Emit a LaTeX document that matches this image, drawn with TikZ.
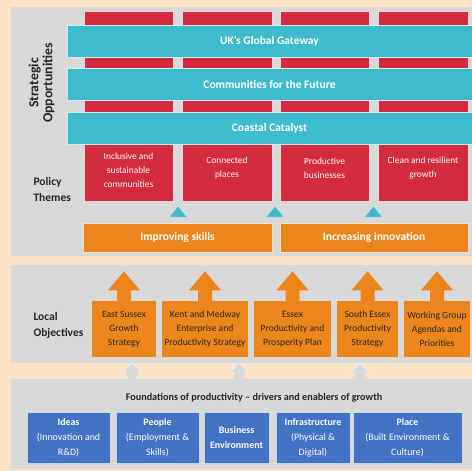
\documentclass[tikz,border=0pt]{standalone}
\usepackage{fontspec}
\setmainfont{Carlito}
\definecolor{peach}{RGB}{252,227,198}
\definecolor{panelgray}{RGB}{217,217,217}
\definecolor{cred}{RGB}{213,43,63}
\definecolor{cteal}{RGB}{62,187,204}
\definecolor{corange}{RGB}{236,133,27}
\definecolor{cblue}{RGB}{68,114,196}
\definecolor{darktext}{RGB}{45,40,35}
\tikzset{
  panel/.style={fill=panelgray, draw=none, inner sep=0pt, rectangle},
  redcol/.style={fill=cred, draw=white!80!cred, line width=0.6pt, inner sep=0pt, minimum height=190, minimum width=89},
  redtext/.style={text=white, align=center, font={\fontsize{9.4}{14}\selectfont}},
  tealbar/.style={fill=cteal, draw=white!75!cteal, line width=0.6pt, inner sep=0pt, minimum width=405, minimum height=32, text=white, font={\fontsize{11.5}{14}\selectfont\bfseries}},
  orbar/.style={fill=corange, draw=white!75!corange, line width=0.6pt, inner sep=0pt, minimum height=29, text=white, font={\fontsize{11.5}{14}\selectfont\bfseries}},
  locbox/.style={fill=corange, draw=none, inner sep=0pt, minimum height=56, text=darktext, align=center, font={\fontsize{9.6}{14}\selectfont}},
  bluebox/.style={fill=cblue, draw=white!70!cblue, line width=0.6pt, inner sep=0pt, minimum height=51, text=white, align=center, font={\fontsize{9.9}{15}\selectfont}},
  sidelabel/.style={text=black!85, align=left, font={\fontsize{11.5}{16}\selectfont\bfseries}},
  tri/.style={fill=cteal, draw=white!70!cteal, line width=0.5pt},
  orarrow/.style={fill=corange, draw=none},
  grayarrow/.style={fill=panelgray, draw=white!60!panelgray, line width=0.4pt},
}
\begin{document}
\begin{tikzpicture}[x=1pt,y=-1pt]
\useasboundingbox (0,0) rectangle (472,471);
\fill[peach] (0,0) rectangle (472,471);

% panels
\node[panel, minimum width=461, minimum height=249] (p1) at (241.5,131.5) {};
\node[panel, minimum width=461, minimum height=98] (p2) at (241.5,314) {};
\node[panel, minimum width=461, minimum height=90] (p3) at (241.5,424) {};

% red policy columns
\node[redcol] (c1) at (128.5,106) {};
\node[redcol, minimum width=90] (c2) at (227,106) {};
\node[redcol] (c3) at (324.5,106) {};
\node[redcol, minimum width=90] (c4) at (423,106) {};
\node[redtext] (t1) at (128.5,170) {Inclusive and\\sustainable\\communities};
\node[redtext] (t2) at (227,168) {Connected\\places};
\node[redtext] (t3) at (324.5,168) {Productive\\businesses};
\node[redtext] (t4) at (423,168) {Clean and resilient\\growth};

% teal bars
\node[tealbar] (s1) at (269.5,41) {UK’s Global Gateway};
\node[tealbar] (s2) at (269.5,84) {Communities for the Future};
\node[tealbar] (s3) at (269.5,128) {Coastal Catalyst};

% side labels
\node[sidelabel, rotate=90, align=center, font={\fontsize{13.8}{14}\selectfont\bfseries}] (lso) at (41.5,83) {Strategic\\Opportunities};
\node[sidelabel, anchor=west] (lpt) at (30,190) {Policy\\Themes};
\node[sidelabel, anchor=west] (llo) at (30,325) {Local\\Objectives};

% orange bars
\node[orbar, minimum width=189] (o1) at (177.5,237.5) {Improving skills};
\node[orbar, minimum width=188] (o2) at (374,237.5) {Increasing innovation};

% teal triangles
\coordinate (tr1) at (178,217);
\coordinate (tr2) at (275,217);
\coordinate (tr3) at (373.5,217);
\foreach \t in {tr1,tr2,tr3}{
  \draw[tri] ([xshift=-9pt]\t) -- ++(9,-11) -- ++(9,11) -- cycle;
}

% local objective boxes
\node[locbox, minimum width=64] (b1) at (124,329) {East Sussex\\Growth\\Strategy};
\node[locbox, minimum width=86] (b2) at (205,329) {Kent and Medway\\Enterprise and\\Productivity Strategy};
\node[locbox, minimum width=77] (b3) at (292.5,329) {Essex\\Productivity and\\Prosperity Plan};
\node[locbox, minimum width=61] (b4) at (367.5,329) {South Essex\\Productivity\\Strategy};
\node[locbox, minimum width=66] (b5) at (437,329) {Working Group\\Agendas and\\Priorities};
\foreach \b in {b1,b2,b3,b4,b5}{
  \fill[orarrow] ([xshift=-7pt]\b.north) -- ++(0,-10.5) -- ++(-9,0) -- ++(16,-19) -- ++(16,19) -- ++(-9,0) -- ++(0,10.5) -- cycle;
}

% gray arrows between panels
\coordinate (g1) at (132,379.5);
\coordinate (g2) at (239,379.5);
\coordinate (g3) at (360,379.5);
\foreach \g in {g1,g2,g3}{
  \draw[grayarrow] ([xshift=-5pt]\g) -- ++(0,-7.5) -- ++(-4,0) -- ++(9,-9) -- ++(9,9) -- ++(-4,0) -- ++(0,7.5);
}

% foundations
\node[font={\fontsize{10.2}{12}\selectfont\bfseries}, text=black!85] (fh) at (254,398) {Foundations of productivity – drivers and enablers of growth};
\node[bluebox, minimum width=83] (i1) at (68.5,437.5) {\textbf{Ideas}\\(Innovation and\\R\&D)};
\node[bluebox, minimum width=83] (i2) at (157.5,437.5) {\textbf{People}\\(Employment \&\\Skills)};
\node[bluebox, minimum width=65] (i3) at (236.5,437.5) {\textbf{Business}\\\textbf{Environment}};
\node[bluebox, minimum width=74] (i4) at (313,437.5) {\textbf{Infrastructure}\\(Physical \&\\Digital)};
\node[bluebox, minimum width=109] (i5) at (407.5,437.5) {\textbf{Place}\\(Built Environment \&\\Culture)};
\end{tikzpicture}
\end{document}
